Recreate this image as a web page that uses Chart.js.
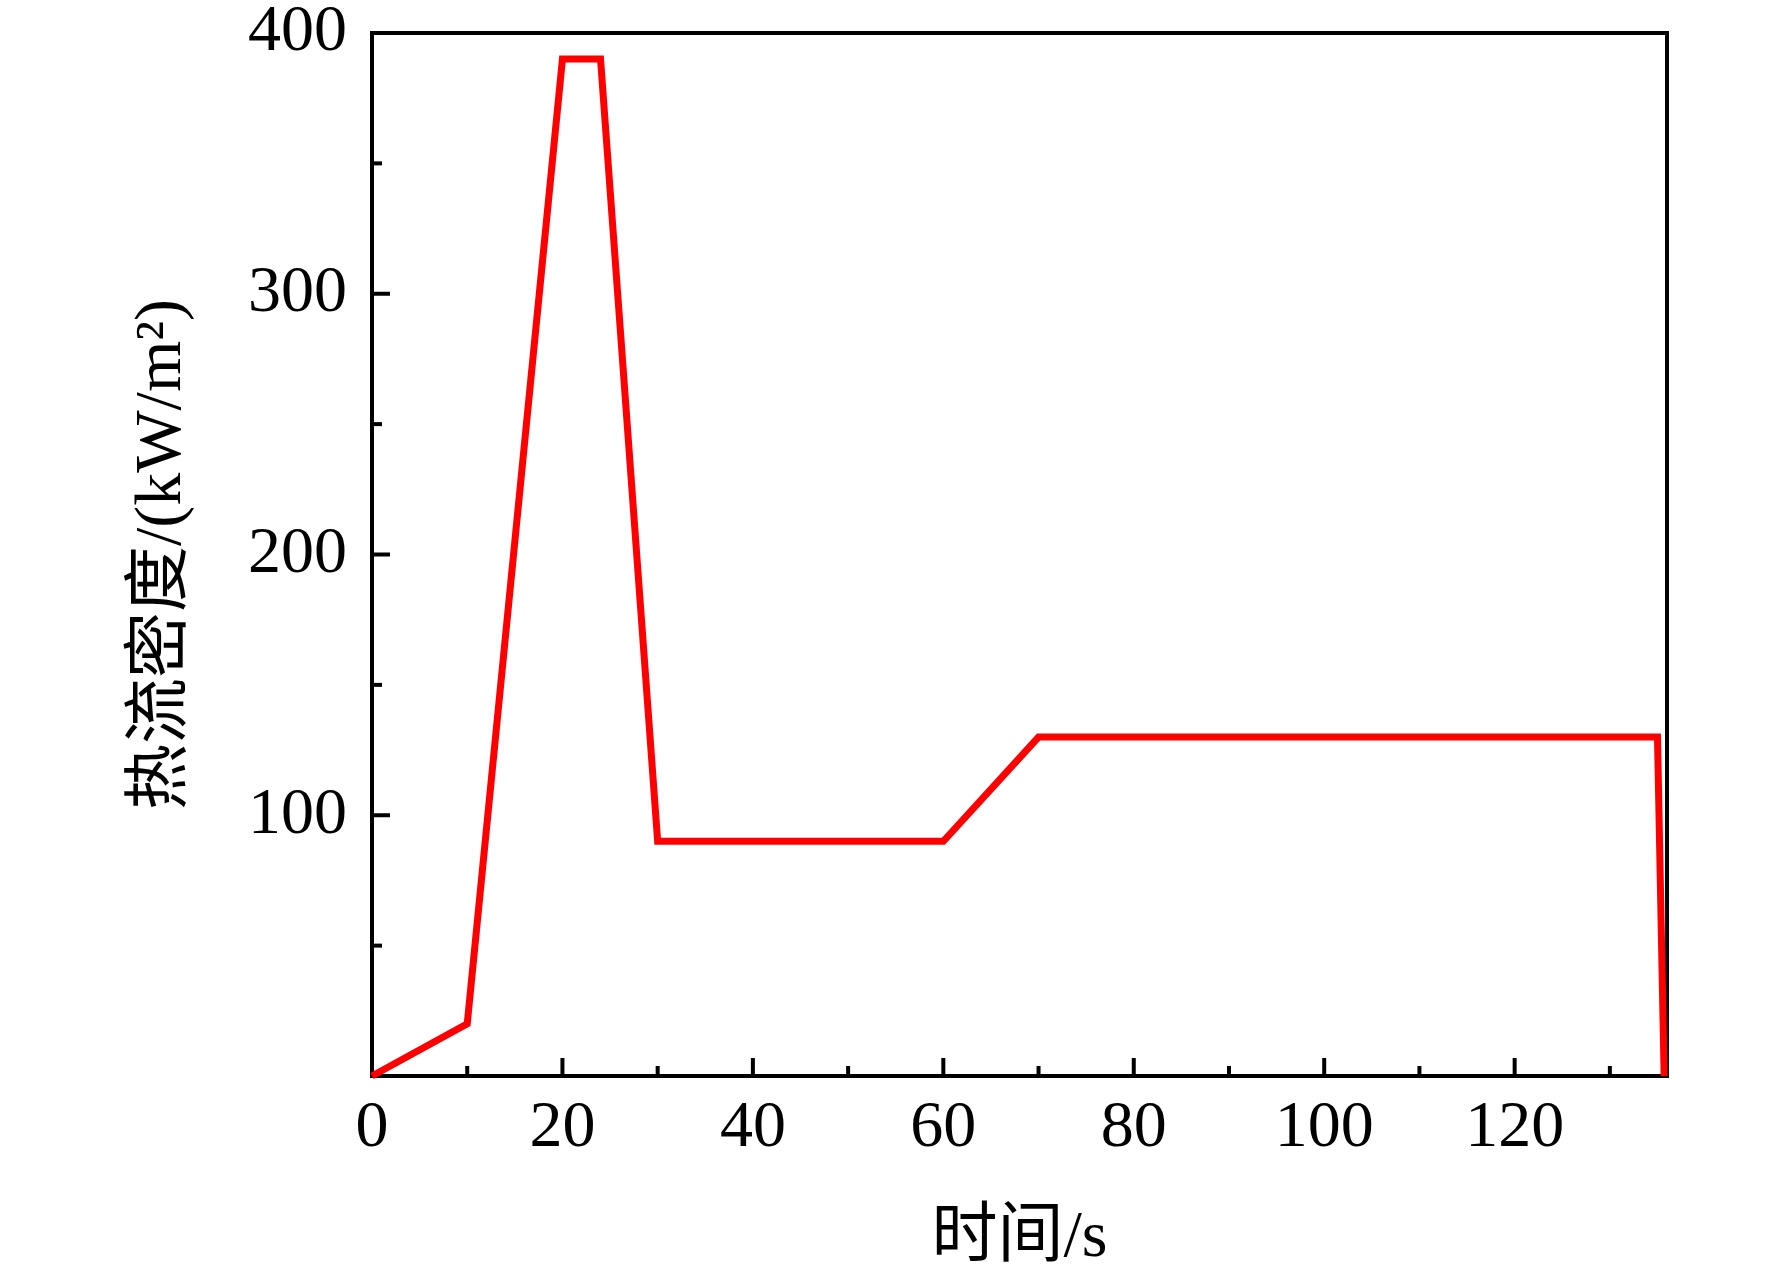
<!DOCTYPE html>
<html>
<head>
<meta charset="utf-8">
<script src="https://cdn.jsdelivr.net/npm/chart.js@4.4.1/dist/chart.umd.min.js"></script>
<style>
  html, body { margin: 0; padding: 0; background: #fff; }
  #wrap { width: 1772px; height: 1275px; }
</style>
</head>
<body>
<div id="wrap"><canvas id="heatChart" width="1772" height="1275"></canvas></div>
<script>
// heat flux history
const timeS = [0, 10, 20, 24, 30, 60, 70, 135, 135.7];
const fluxKW = [0, 20, 390, 390, 90, 90, 130, 130, 0];
const xTickLabels = [0, 20, 40, 60, 80, 100, 120];
const yTickLabels = [100, 200, 300, 400];

const serif = "'Liberation Serif', 'Noto Sans CJK SC', serif";

// ticks point inward, major + minor, drawn with the axis box
const innerTicks = {
  id: "innerTicks",
  beforeDatasetsDraw(chart) {
    const { ctx, chartArea: a, scales } = chart;
    ctx.save();
    ctx.strokeStyle = "#000";
    ctx.lineWidth = 4;
    ctx.strokeRect(a.left, a.top, a.right - a.left, a.bottom - a.top);
    ctx.lineWidth = 4;
    scales.x.ticks.forEach((t) => {
      if (t.value % 10 !== 0 || t.value === 0) return;
      const px = scales.x.getPixelForValue(t.value);
      const len = xTickLabels.includes(t.value) ? 18 : 10;
      ctx.beginPath();
      ctx.moveTo(px, a.bottom);
      ctx.lineTo(px, a.bottom - len);
      ctx.stroke();
    });
    scales.y.ticks.forEach((t) => {
      if (t.value === 0 || t.value === 400) return;
      const py = scales.y.getPixelForValue(t.value);
      const len = yTickLabels.includes(t.value) ? 18 : 10;
      ctx.beginPath();
      ctx.moveTo(a.left, py);
      ctx.lineTo(a.left + len, py);
      ctx.stroke();
    });
    ctx.restore();
  },
};

const ctx = document.getElementById("heatChart");
new Chart(ctx, {
  type: "line",
  data: {
    datasets: [
      {
        data: timeS.map((t, i) => ({ x: t, y: fluxKW[i] })),
        borderColor: "#ff0000",
        borderWidth: 7,
        pointRadius: 0,
        tension: 0,
        fill: false,
        clip: false,
        borderJoinStyle: "miter",
      },
    ],
  },
  options: {
    responsive: false,
    devicePixelRatio: 1,
    animation: false,
    layout: { padding: { top: 33, right: 105, left: 0, bottom: 0 } },
    plugins: { legend: { display: false }, tooltip: { enabled: false } },
    scales: {
      x: {
        type: "linear",
        min: 0,
        max: 136,
        grid: { display: false, drawTicks: false },
        border: { display: false },
        ticks: {
          stepSize: 10,
          includeBounds: false,
          autoSkip: false,
          maxRotation: 0,
          padding: 20,
          color: "#000",
          font: { family: serif, size: 66, lineHeight: 1 },
          callback: (v) => (xTickLabels.includes(v) ? String(v) : ""),
        },
        title: {
          display: true,
          text: "时间/s",
          color: "#000",
          font: { family: serif, size: 66, lineHeight: 1 },
          padding: { top: 0, bottom: 3 },
        },
        afterFit(scale) {
          scale.height = 199;
          scale.paddingLeft = 0;
          scale.paddingRight = 0;
        },
      },
      y: {
        type: "linear",
        min: 0,
        max: 400,
        grid: { display: false, drawTicks: false },
        border: { display: false },
        ticks: {
          stepSize: 50,
          autoSkip: false,
          padding: 25,
          color: "#000",
          font: { family: serif, size: 66, lineHeight: 1 },
          callback: (v) => (yTickLabels.includes(v) ? String(v) : ""),
        },
        title: {
          display: true,
          text: "热流密度/(kW/m²)",
          color: "#000",
          font: { family: serif, size: 66, lineHeight: 1 },
          padding: { top: 130, bottom: 0 },
        },
        afterFit(scale) {
          scale.width = 372;
          scale.paddingTop = 0;
          scale.paddingBottom = 0;
        },
      },
    },
  },
  plugins: [innerTicks],
});
</script>
</body>
</html>
